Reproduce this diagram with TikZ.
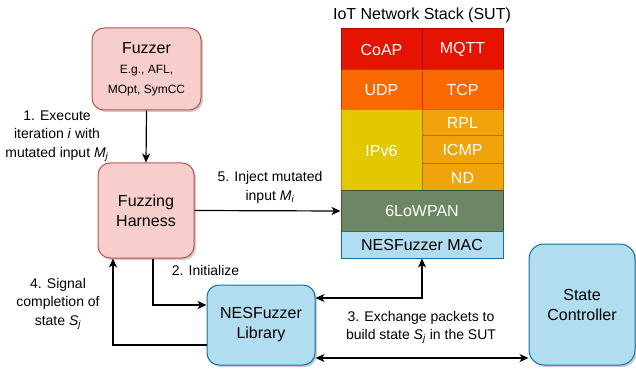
\documentclass[tikz,border=0pt]{standalone}
\usepackage{fontspec}
\setmainfont{Liberation Sans}
\usetikzlibrary{arrows.meta,shadows,calc}
\definecolor{pinkfill}{HTML}{F8CECC}
\definecolor{pinkline}{HTML}{B85450}
\definecolor{bluefill}{HTML}{B1DDF0}
\definecolor{blueline}{HTML}{10739E}
\definecolor{redfill}{HTML}{E51400}
\definecolor{redline}{HTML}{B20000}
\definecolor{orfill}{HTML}{FA6800}
\definecolor{orline}{HTML}{C73500}
\definecolor{yelfill}{HTML}{E3C800}
\definecolor{yelline}{HTML}{B09500}
\definecolor{ambfill}{HTML}{F0A30A}
\definecolor{ambline}{HTML}{BD7000}
\definecolor{grnfill}{HTML}{6D8764}
\definecolor{grnline}{HTML}{3A5431}
\newcommand\vsub[2]{\textit{#1}\textsubscript{\textit{#2}}}
\newcommand\smallfz{\fontsize{12}{18}\selectfont}
\begin{document}
\begin{tikzpicture}[x=1pt,y=-1pt,
  shad/.style={drop shadow={shadow xshift=2pt,shadow yshift=-2pt,opacity=0.2,fill=black}},
  pinkbox/.style={draw=pinkline,fill=pinkfill,rounded corners=12pt,inner sep=0pt,align=center,line width=1pt,shad,
    font=\fontsize{16}{20}\selectfont},
  bluebox/.style={draw=blueline,fill=bluefill,rounded corners=12pt,inner sep=0pt,align=center,line width=1pt,shad,
    font=\fontsize{16}{20}\selectfont},
  cell/.style={draw=#1line,fill=#1fill,inner sep=0pt,align=center,line width=1pt,text=white,
    font=\fontsize{16}{20}\selectfont},
  lbl/.style={align=center,inner sep=0pt,font=\fontsize{14}{18.5}\selectfont},
  conn/.style={line width=1.2pt,-{Stealth[length=9pt,width=8pt,inset=2.5pt]}},
  biconn/.style={line width=1.2pt,{Stealth[length=9pt,width=8pt,inset=2.5pt]}-{Stealth[length=9pt,width=8pt,inset=2.5pt]}}
]
\useasboundingbox (0,0) rectangle (636,371);

% boxes
\node[pinkbox,minimum width=109pt,minimum height=82pt] (fuzzer) at (146.5,69)
  {Fuzzer\\ \smallfz E.g., AFL,\\ \smallfz MOpt, SymCC};
\node[pinkbox,minimum width=96pt,minimum height=95pt] (harness) at (146,210.5) {Fuzzing\\Harness};
\node[bluebox,minimum width=108pt,minimum height=80pt] (lib) at (261,325) {NESFuzzer\\Library};
\node[bluebox,rounded corners=15pt,minimum width=106pt,minimum height=121pt] (sc) at (582,304.5) {State\\Controller};

% stack
\node[font=\fontsize{16}{20}\selectfont,inner sep=0pt] (title) at (422,15) {IoT Network Stack (SUT)};
\node[cell=red,minimum width=81pt,minimum height=41pt] (coap) at (381.5,49.5) {CoAP};
\node[cell=red,minimum width=81pt,minimum height=41pt] (mqtt) at (462.5,49.5) {MQTT};
\node[cell=or,minimum width=81pt,minimum height=40pt] (udp) at (381.5,90) {UDP};
\node[cell=or,minimum width=81pt,minimum height=40pt] (tcp) at (462.5,90) {TCP};
\node[cell=yel,minimum width=81pt,minimum height=81pt] (ipv6) at (381.5,150.5) {IPv6};
\node[cell=amb,minimum width=81pt,minimum height=26pt] (rpl) at (462.5,123) {RPL};
\node[cell=amb,minimum width=81pt,minimum height=28pt] (icmp) at (462.5,150) {ICMP};
\node[cell=amb,minimum width=81pt,minimum height=27pt] (nd) at (462.5,177.5) {ND};
\node[cell=grn,minimum width=162pt,minimum height=40pt] (lowpan) at (422,211) {6LoWPAN};
\node[cell=blue,text=black,minimum width=162pt,minimum height=27pt] (mac) at (422,244.5) {NESFuzzer MAC};

% connectors
\draw[conn] (fuzzer.south) -- (harness.north);
\draw[conn] (harness.east) -- (lowpan.west);
\draw[conn] ([xshift=7pt]harness.south) |- ([yshift=20pt]lib.west);
\draw[conn] ([yshift=-20pt]lib.west) -| ([xshift=-33pt]harness.south);
\draw[biconn] ([yshift=27pt]lib.east) -| (mac.south);
\draw[biconn] ([yshift=-33pt]lib.east) -- ([yshift=-33pt]lib.east -| sc.west);

% labels
\node[lbl] (l1) at (57,136) {1. Execute\\iteration \textit{i} with\\mutated input \vsub{M}{j}};
\node[lbl] (l5) at (270,187.5) {5. Inject mutated\\input \vsub{M}{i}};
\node[lbl] (l2) at (205.5,270) {2. Initialize};
\node[lbl] (l4) at (58,304) {4. Signal\\completion of\\state \vsub{S}{j}};
\node[lbl] (l3) at (421,327.5) {3. Exchange packets to\\build state \vsub{S}{j} in the SUT};
\end{tikzpicture}
\end{document}
